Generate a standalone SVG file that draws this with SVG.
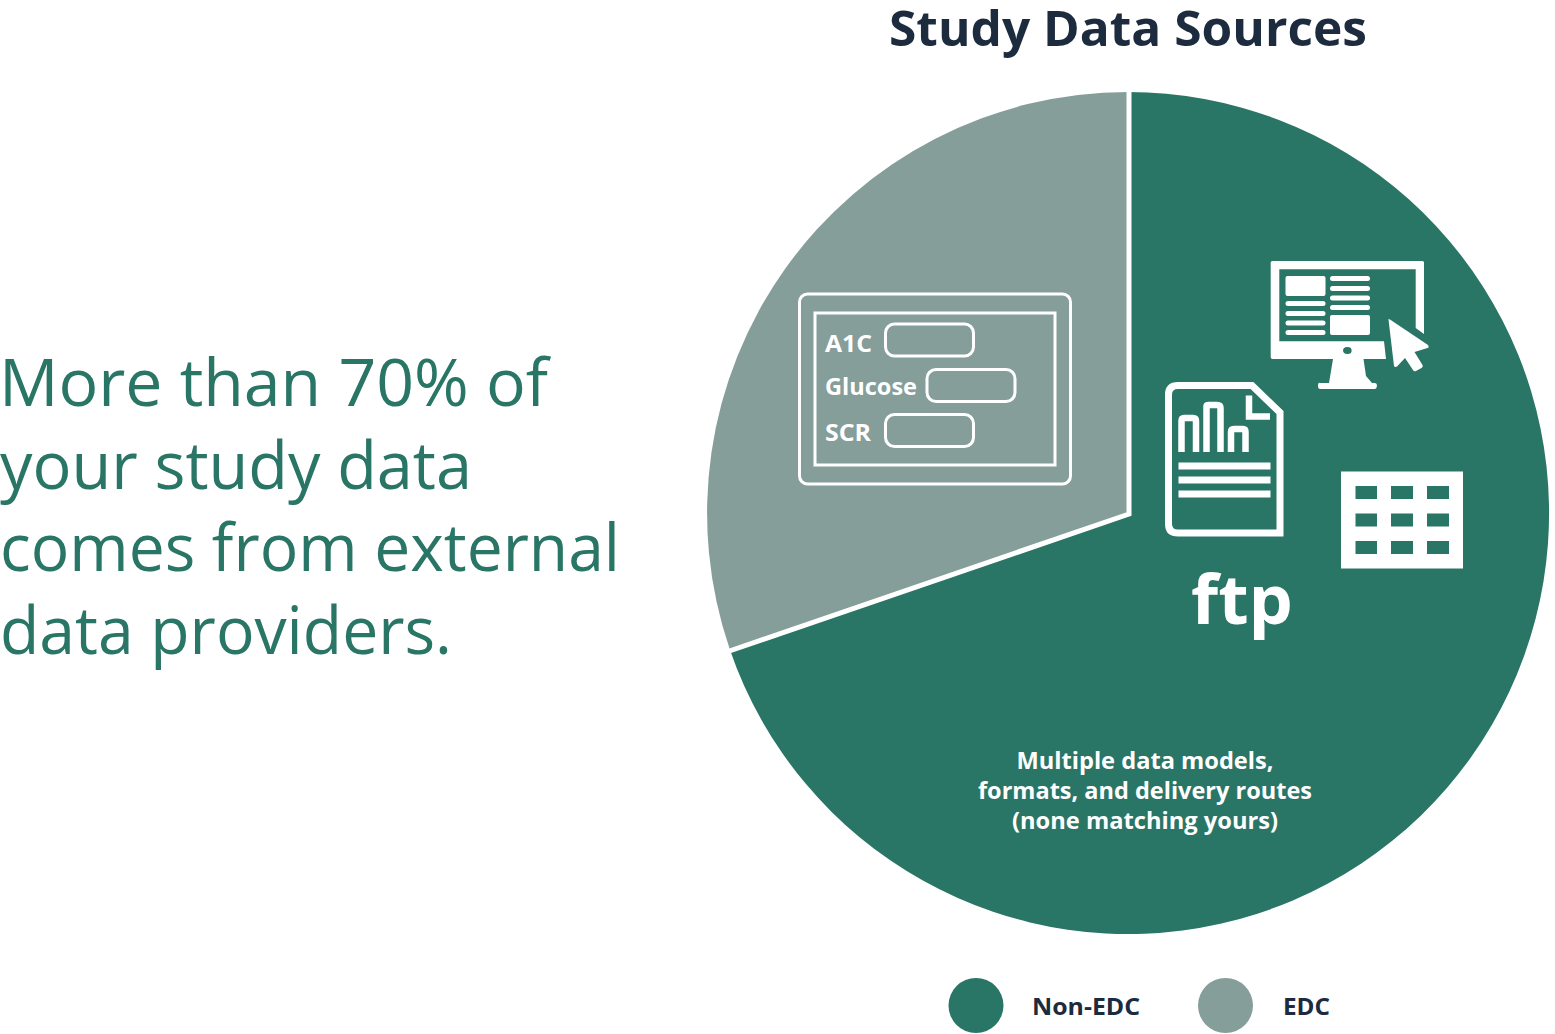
<svg xmlns="http://www.w3.org/2000/svg" width="1555" height="1034" viewBox="0 0 1555 1034">
<style>
text{font-family:"Open Sans","Noto Sans","Liberation Sans",sans-serif}
.b{font-weight:700}
.lead{font-size:66px;fill:#297566}
.w{fill:#fff}
.wl{fill:none;stroke:#fff;stroke-width:3}
.g{fill:#297566}
.lab{font-size:24px;font-weight:700;fill:#fff}
.cap{font-size:24px;font-weight:700;fill:#fff;text-anchor:middle}
.leg{font-size:24px;font-weight:700;fill:#1c2b3e}
</style>
<rect width="1555" height="1034" fill="#fff"/>
<g id="lead-text">
<text class="lead" x="-1" y="406" textLength="549" lengthAdjust="spacingAndGlyphs">More than 70% of</text>
<text class="lead" x="0" y="489" textLength="472" lengthAdjust="spacingAndGlyphs">your study data</text>
<text class="lead" x="0" y="571" textLength="620" lengthAdjust="spacingAndGlyphs">comes from external</text>
<text class="lead" x="0" y="654" textLength="452" lengthAdjust="spacingAndGlyphs">data providers.</text>
</g>
<g id="title"><text class="b" x="889" y="46" font-size="49" fill="#1c2b3e" textLength="478" lengthAdjust="spacingAndGlyphs">Study Data Sources</text></g>
<g id="pie">
<path id="slice-non-edc" d="M1128 513V92A421 421 0 1 1 730 650Z" fill="#297566"/>
<path id="slice-edc" d="M1128 513V92A421 421 0 0 0 730 650Z" fill="#859e99"/>
<path d="M1129 90V514L728 651.500" fill="none" stroke="#fff" stroke-width="5"/>
</g>
<g id="form-icon">
<rect class="wl" x="799.500" y="294" width="271" height="190" rx="8"/>
<rect class="wl" x="815" y="313" width="240" height="152"/>
<rect class="wl" x="885.500" y="324" width="88" height="32" rx="9"/>
<rect class="wl" x="927" y="369.500" width="88" height="32" rx="9"/>
<rect class="wl" x="885.500" y="414.500" width="88" height="32" rx="9"/>
<text class="lab" x="825" y="352" textLength="47" lengthAdjust="spacingAndGlyphs">A1C</text>
<text class="lab" x="825" y="395" textLength="92" lengthAdjust="spacingAndGlyphs">Glucose</text>
<text class="lab" x="825" y="441" textLength="46" lengthAdjust="spacingAndGlyphs">SCR</text>
</g>
<g id="monitor-icon">
<path class="w" fill-rule="evenodd" d="M1272.500 261H1422.500Q1424 261 1424 262.500V334L1415.700 328V269.300H1279.300V341.300H1384L1386 359H1363.500L1366 376L1372 383H1375Q1377 383 1377 385.500T1375 389H1320Q1318 389 1318 385.500T1320 383H1329L1333 359H1272.500Q1270.700 359 1270.700 357V262.500Q1270.700 261 1272.500 261ZM1347.300 347A4.300 3.500 0 1 0 1347.400 354A4.300 3.500 0 1 0 1347.300 347Z"/>
<rect class="w" x="1285.500" y="276" width="40" height="20" rx="2"/>
<rect class="w" x="1330" y="276" width="40" height="5" rx="2.500"/>
<rect class="w" x="1330" y="286" width="40" height="5" rx="2.500"/>
<rect class="w" x="1330" y="295.500" width="40" height="5" rx="2.500"/>
<rect class="w" x="1330" y="305" width="40" height="5" rx="2.500"/>
<rect class="w" x="1285.500" y="301" width="40" height="5" rx="2.500"/>
<rect class="w" x="1285.500" y="311" width="40" height="5" rx="2.500"/>
<rect class="w" x="1285.500" y="320.500" width="40" height="5" rx="2.500"/>
<rect class="w" x="1285.500" y="330" width="40" height="5" rx="2.500"/>
<rect class="w" x="1330" y="315" width="40" height="20" rx="2"/>
<path class="w" d="M1388.500 319.500Q1388 318.500 1390 319.500L1428 345Q1429.500 347.500 1427.500 348L1414.500 352L1422.500 365Q1423.500 367 1421.500 368L1416 371Q1414 372 1413 370L1405 358L1397 366.500Q1395 367.500 1394 366Z"/>
</g>
<g id="document-icon">
<path fill="none" stroke="#fff" stroke-width="7" d="M1280 533H1178Q1168.500 533 1168.500 524V394.500Q1168.500 385.500 1178 385.500H1252L1280 412.500Z"/>
<path fill="none" stroke="#fff" stroke-width="6.500" d="M1249 395.500V416.500H1270"/>
<path fill="none" stroke="#fff" stroke-width="6.500" d="M1181.500 452V421Q1181.500 418 1184 418H1193Q1196 418 1196 421V452M1206.500 452V406Q1206.500 405 1209 405H1217Q1220.500 405 1220.500 408V452M1231 452V432Q1231 429 1234 429H1243Q1245.500 429 1245.500 432V452"/>
<rect class="w" x="1178.500" y="462.500" width="92" height="7"/>
<rect class="w" x="1178.500" y="476.500" width="92" height="7"/>
<rect class="w" x="1178.500" y="490.500" width="92" height="7"/>
</g>
<g id="table-icon">
<rect class="w" x="1341" y="471.500" width="122" height="97"/>
<rect class="g" x="1355.500" y="486" width="21.500" height="13"/>
<rect class="g" x="1391" y="486" width="22" height="13"/>
<rect class="g" x="1427" y="486" width="22" height="13"/>
<rect class="g" x="1355.500" y="513.500" width="21.500" height="13"/>
<rect class="g" x="1391" y="513.500" width="22" height="13"/>
<rect class="g" x="1427" y="513.500" width="22" height="13"/>
<rect class="g" x="1355.500" y="541" width="21.500" height="13"/>
<rect class="g" x="1391" y="541" width="22" height="13"/>
<rect class="g" x="1427" y="541" width="22" height="13"/>
</g>
<g id="ftp-label"><text class="b w" x="1191" y="624" font-size="68" textLength="102" lengthAdjust="spacingAndGlyphs">ftp</text></g>
<g id="caption">
<text class="cap" x="1145" y="769" textLength="257" lengthAdjust="spacingAndGlyphs">Multiple data models,</text>
<text class="cap" x="1145" y="799" textLength="334" lengthAdjust="spacingAndGlyphs">formats, and delivery routes</text>
<text class="cap" x="1145" y="829" textLength="266" lengthAdjust="spacingAndGlyphs">(none matching yours)</text>
</g>
<g id="legend-non-edc">
<circle cx="976" cy="1005.500" r="27.500" fill="#297566"/>
<text class="leg" x="1032" y="1015" textLength="108" lengthAdjust="spacingAndGlyphs">Non-EDC</text>
</g>
<g id="legend-edc">
<circle cx="1225.500" cy="1005.500" r="27.500" fill="#859e99"/>
<text class="leg" x="1283" y="1015" textLength="47" lengthAdjust="spacingAndGlyphs">EDC</text>
</g>
</svg>
